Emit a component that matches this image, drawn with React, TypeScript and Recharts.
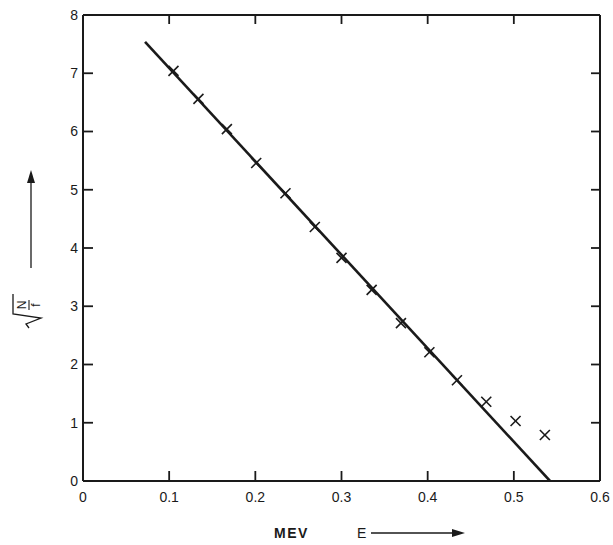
import { ComposedChart, Line, Scatter, XAxis, YAxis } from 'recharts';

// measured points (E in MeV, sqrt(N/f))
const energy = [0.105, 0.134, 0.167, 0.201, 0.235, 0.269, 0.3, 0.335, 0.369, 0.402, 0.434, 0.468, 0.502, 0.536];
const sqrtNf = [7.04, 6.56, 6.04, 5.46, 4.94, 4.36, 3.83, 3.28, 2.71, 2.21, 1.73, 1.36, 1.03, 0.79];

// straight-line fit
const fitE = [0.072, 0.542];
const fitY = [7.54, 0];

const xTicks = [0, 0.1, 0.2, 0.3, 0.4, 0.5, 0.6];
const yTicks = [0, 1, 2, 3, 4, 5, 6, 7, 8];

const points = energy.map((e, i) => ({ x: e, y: sqrtNf[i] }));
const fit = fitE.map((e, i) => ({ x: e, y: fitY[i] }));

// anchors for the mirrored tick marks on the top and right edges of the frame
const topMarks = xTicks.slice(1, -1).map((v) => ({ x: v, y: yTicks[yTicks.length - 1] }));
const rightMarks = yTicks.slice(1, -1).map((v) => ({ x: xTicks[xTicks.length - 1], y: v }));

const ink = '#1a1a1a';
const font = '"Liberation Sans", Arial, sans-serif';

const Cross = (props: any) => {
  const { cx, cy } = props;
  if (cx == null || cy == null) return <g />;
  const r = 5;
  return (
    <g stroke={ink} strokeWidth={1.6}>
      <line x1={cx - r} y1={cy - r} x2={cx + r} y2={cy + r} />
      <line x1={cx - r} y1={cy + r} x2={cx + r} y2={cy - r} />
    </g>
  );
};

const DownMark = (p: any) =>
  p.cx == null ? <g /> : <line x1={p.cx} x2={p.cx} y1={p.cy} y2={p.cy + 9} stroke={ink} strokeWidth={1.8} />;
const LeftMark = (p: any) =>
  p.cy == null ? <g /> : <line x1={p.cx} x2={p.cx - 9} y1={p.cy} y2={p.cy} stroke={ink} strokeWidth={1.8} />;

const XTitle = (props: any) => {
  const vb = props.viewBox;
  const x = vb.x + 191;
  const y = vb.y + 57;
  return (
    <g fontFamily={font} fill={ink}>
      <text x={x} y={y} fontSize={14} fontWeight="bold" letterSpacing={1.5}>MEV</text>
      <text x={x + 83} y={y} fontSize={14}>E</text>
      <line x1={x + 97} y1={y - 5} x2={x + 180} y2={y - 5} stroke={ink} strokeWidth={1.3} />
      <path d={`M ${x + 191} ${y - 5} L ${x + 178} ${y - 9} L ${x + 178} ${y - 1} Z`} fill={ink} />
    </g>
  );
};

const YTitle = (props: any) => {
  const vb = props.viewBox;
  const cx = 31;
  const top = vb.y + 155;
  return (
    <g fill={ink} stroke="none" fontFamily={font}>
      <line x1={cx} y1={top + 10} x2={cx} y2={top + 98} stroke={ink} strokeWidth={1.3} />
      <path d={`M ${cx} ${top} L ${cx - 4} ${top + 13} L ${cx + 4} ${top + 13} Z`} />
      <g transform={`translate(${cx - 2} ${top + 140}) rotate(-90)`}>
        <path d="M -18 0 L -14 -3 L -8 12 L -4 -16 L 16 -16" fill="none" stroke={ink} strokeWidth={1.3} />
        <text x={5} y={-3} fontSize={12} textAnchor="middle">N</text>
        <line x1={0} y1={0} x2={10} y2={0} stroke={ink} strokeWidth={1.1} />
        <text x={5} y={11} fontSize={12} textAnchor="middle">f</text>
      </g>
    </g>
  );
};

const tickStyle = { fill: ink, fontSize: 14, fontFamily: font };

export default function App() {
  return (
    <div style={{ position: 'absolute', left: 0, top: 0, background: '#fff' }}>
      <ComposedChart width={613} height={545} margin={{ top: 14, right: 12, left: 0, bottom: 0 }}>
        <XAxis
          xAxisId="b"
          type="number"
          dataKey="x"
          domain={[0, 0.6]}
          ticks={xTicks}
          interval={0}
          tickFormatter={(v: number) => (v === 0 ? '0' : v.toFixed(1))}
          height={64}
          tickSize={-10}
          tickMargin={21}
          axisLine={{ stroke: ink, strokeWidth: 2 }}
          tickLine={{ stroke: ink, strokeWidth: 1.8 }}
          tick={tickStyle}
          allowDataOverflow
          label={{ content: XTitle }}
        />
        <XAxis
          xAxisId="t"
          orientation="top"
          type="number"
          dataKey="x"
          domain={[0, 0.6]}
          height={1}
          tick={false}
          tickLine={false}
          allowDataOverflow
          axisLine={{ stroke: ink, strokeWidth: 2 }}
        />
        <YAxis
          yAxisId="l"
          type="number"
          dataKey="y"
          domain={[0, 8]}
          ticks={yTicks}
          interval={0}
          width={83}
          tickSize={-10}
          tickMargin={15}
          axisLine={{ stroke: ink, strokeWidth: 2 }}
          tickLine={{ stroke: ink, strokeWidth: 1.8 }}
          tick={tickStyle}
          allowDataOverflow
          label={{ content: YTitle }}
        />
        <YAxis
          yAxisId="r"
          orientation="right"
          type="number"
          dataKey="y"
          domain={[0, 8]}
          width={1}
          tick={false}
          tickLine={false}
          allowDataOverflow
          axisLine={{ stroke: ink, strokeWidth: 2 }}
        />
        <Scatter
          xAxisId="b"
          yAxisId="l"
          data={topMarks}
          dataKey="y"
          shape={DownMark}
          legendType="none"
          isAnimationActive={false}
        />
        <Scatter
          xAxisId="b"
          yAxisId="l"
          data={rightMarks}
          dataKey="y"
          shape={LeftMark}
          legendType="none"
          isAnimationActive={false}
        />
        <Line
          xAxisId="b"
          yAxisId="l"
          data={fit}
          dataKey="y"
          stroke={ink}
          strokeWidth={2.6}
          dot={false}
          activeDot={false}
          isAnimationActive={false}
        />
        <Scatter
          xAxisId="b"
          yAxisId="l"
          data={points}
          dataKey="y"
          shape={Cross}
          isAnimationActive={false}
        />
      </ComposedChart>
    </div>
  );
}
